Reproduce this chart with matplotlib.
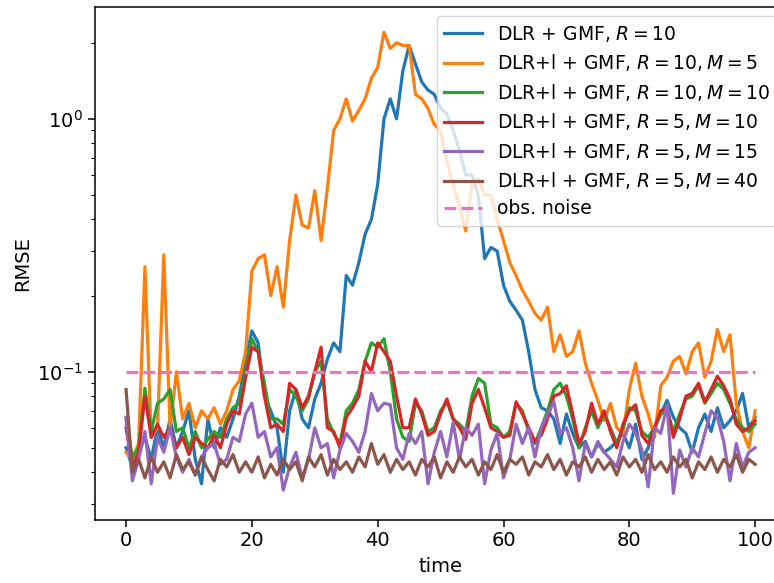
import numpy as np
import matplotlib
matplotlib.use("Agg")
import matplotlib.pyplot as plt

# time grid 0..100
time = np.arange(0, 101)

dlr_r10 = [
    0.05, 0.042, 0.048, 0.055, 0.045, 0.06, 0.05, 0.065, 0.05, 0.058,
    0.07, 0.045, 0.036, 0.065, 0.05, 0.06, 0.055, 0.065, 0.08, 0.11,
    0.145, 0.13, 0.08, 0.07, 0.06, 0.04, 0.07, 0.085, 0.065, 0.06,
    0.078, 0.09, 0.112, 0.13, 0.12, 0.24, 0.22, 0.27, 0.35, 0.4,
    0.55, 1.0, 1.2, 1.0, 1.55, 1.95, 1.65, 1.4, 1.3, 1.25,
    1.1, 1.05, 0.9, 0.75, 0.6, 0.6, 0.5, 0.28, 0.31, 0.3,
    0.22, 0.19, 0.175, 0.16, 0.12, 0.085, 0.072, 0.07, 0.065, 0.052,
    0.068, 0.057, 0.05, 0.053, 0.046, 0.052, 0.048, 0.05, 0.053, 0.057,
    0.05, 0.062, 0.045, 0.05, 0.06, 0.068, 0.077, 0.066, 0.06, 0.057,
    0.048, 0.06, 0.068, 0.058, 0.072, 0.06, 0.064, 0.07, 0.082, 0.06,
    0.066,
]

dlrl_r10_m5 = [
    0.048, 0.045, 0.052, 0.26, 0.055, 0.06, 0.29, 0.06, 0.1, 0.065,
    0.075, 0.06, 0.07, 0.065, 0.072, 0.062, 0.07, 0.085, 0.092, 0.12,
    0.25, 0.28, 0.29, 0.2, 0.26, 0.18, 0.33, 0.5, 0.38, 0.37,
    0.52, 0.33, 0.53, 0.9, 1.0, 1.2, 0.98, 1.08, 1.2, 1.45,
    1.6, 2.2, 1.9, 2.0, 1.95, 1.95, 1.25, 1.2, 1.1, 0.95,
    0.9, 0.68, 0.55, 0.45, 0.36, 0.55, 0.58, 0.5, 0.5, 0.4,
    0.33, 0.27, 0.24, 0.21, 0.19, 0.17, 0.16, 0.18, 0.12, 0.14,
    0.115, 0.12, 0.145, 0.108, 0.09, 0.077, 0.064, 0.075, 0.06, 0.057,
    0.085, 0.108, 0.08, 0.068, 0.055, 0.088, 0.095, 0.11, 0.115, 0.098,
    0.12, 0.13, 0.095, 0.11, 0.147, 0.12, 0.14, 0.075, 0.058, 0.05,
    0.07,
]

dlrl_r10_m10 = [
    0.065, 0.046, 0.05, 0.086, 0.058, 0.075, 0.078, 0.085, 0.058, 0.06,
    0.05, 0.058, 0.05, 0.054, 0.058, 0.055, 0.065, 0.072, 0.075, 0.1,
    0.135, 0.12, 0.09, 0.065, 0.065, 0.062, 0.085, 0.08, 0.07, 0.078,
    0.1, 0.11, 0.065, 0.057, 0.052, 0.07, 0.075, 0.085, 0.11, 0.13,
    0.125, 0.135, 0.1, 0.065, 0.055, 0.053, 0.075, 0.07, 0.058, 0.06,
    0.07, 0.076, 0.065, 0.062, 0.058, 0.08, 0.094, 0.09, 0.062, 0.06,
    0.055, 0.058, 0.075, 0.07, 0.058, 0.052, 0.06, 0.07, 0.085, 0.09,
    0.08, 0.065, 0.05, 0.06, 0.07, 0.06, 0.068, 0.06, 0.052, 0.06,
    0.072, 0.07, 0.058, 0.055, 0.06, 0.068, 0.07, 0.058, 0.068, 0.078,
    0.08, 0.088, 0.075, 0.082, 0.09, 0.085, 0.075, 0.065, 0.06, 0.058,
    0.062,
]

dlrl_r5_m10 = [
    0.06, 0.042, 0.048, 0.08, 0.055, 0.062, 0.055, 0.06, 0.05, 0.055,
    0.047, 0.055, 0.052, 0.05, 0.056, 0.05, 0.062, 0.07, 0.068, 0.095,
    0.125, 0.12, 0.08, 0.06, 0.062, 0.058, 0.09, 0.085, 0.072, 0.08,
    0.1, 0.125, 0.06, 0.058, 0.05, 0.066, 0.072, 0.08, 0.11, 0.1,
    0.13, 0.12, 0.11, 0.08, 0.06, 0.06, 0.078, 0.068, 0.056, 0.058,
    0.068, 0.078, 0.065, 0.06, 0.054, 0.075, 0.085, 0.072, 0.06, 0.058,
    0.055, 0.056, 0.076, 0.068, 0.06, 0.053, 0.056, 0.065, 0.08, 0.082,
    0.088, 0.068, 0.052, 0.058, 0.075, 0.062, 0.07, 0.058, 0.05, 0.062,
    0.07, 0.074, 0.056, 0.052, 0.06, 0.07, 0.072, 0.055, 0.065, 0.08,
    0.082, 0.09, 0.076, 0.085, 0.096, 0.088, 0.078, 0.062, 0.058, 0.06,
    0.064,
]

dlrl_r5_m15 = [
    0.066, 0.037, 0.045, 0.058, 0.036, 0.055, 0.048, 0.06, 0.046, 0.04,
    0.045, 0.039, 0.046, 0.05, 0.052, 0.043, 0.045, 0.055, 0.053, 0.068,
    0.075, 0.055, 0.058, 0.046, 0.05, 0.034, 0.042, 0.048, 0.038, 0.045,
    0.06, 0.05, 0.052, 0.038, 0.049, 0.057, 0.053, 0.048, 0.058, 0.082,
    0.07, 0.075, 0.074, 0.05, 0.045, 0.057, 0.052, 0.058, 0.036, 0.048,
    0.058, 0.046, 0.063, 0.045, 0.06, 0.056, 0.062, 0.036, 0.049, 0.057,
    0.038, 0.045, 0.062, 0.052, 0.06, 0.046, 0.06, 0.068, 0.076, 0.057,
    0.06, 0.05, 0.037, 0.052, 0.046, 0.053, 0.048, 0.045, 0.042, 0.053,
    0.062, 0.057, 0.049, 0.035, 0.06, 0.057, 0.074, 0.033, 0.049, 0.042,
    0.05, 0.046, 0.057, 0.07, 0.066, 0.053, 0.037, 0.052, 0.042, 0.048,
    0.05,
]

dlrl_r5_m40 = [
    0.085, 0.04, 0.045, 0.038, 0.046, 0.04, 0.044, 0.038, 0.047, 0.041,
    0.044, 0.039, 0.046, 0.041, 0.037, 0.045, 0.042, 0.047, 0.04, 0.044,
    0.04, 0.046, 0.038, 0.043, 0.039, 0.045, 0.041, 0.044, 0.037, 0.046,
    0.042, 0.047, 0.039, 0.045, 0.041, 0.044, 0.04, 0.046, 0.042, 0.052,
    0.043, 0.047, 0.04, 0.045, 0.041, 0.044, 0.039, 0.045, 0.042, 0.046,
    0.038, 0.044, 0.04, 0.046, 0.042, 0.045, 0.039, 0.044, 0.041, 0.047,
    0.04, 0.045, 0.043, 0.046, 0.039, 0.044, 0.042, 0.047, 0.041, 0.045,
    0.039, 0.044, 0.042, 0.046, 0.04, 0.045, 0.041, 0.044, 0.039, 0.046,
    0.042, 0.045, 0.04, 0.047, 0.041, 0.044, 0.04, 0.046, 0.042, 0.045,
    0.038, 0.044, 0.041, 0.046, 0.04, 0.045, 0.042, 0.047, 0.04, 0.045,
    0.043,
]

obs_noise = 0.1

labels = [
    r"DLR + GMF, $R = 10$",
    r"DLR+l + GMF, $R = 10, M = 5$",
    r"DLR+l + GMF, $R = 10, M = 10$",
    r"DLR+l + GMF, $R = 5, M = 10$",
    r"DLR+l + GMF, $R = 5, M = 15$",
    r"DLR+l + GMF, $R = 5, M = 40$",
]
series = [dlr_r10, dlrl_r10_m5, dlrl_r10_m10, dlrl_r5_m10, dlrl_r5_m15, dlrl_r5_m40]

plt.rcParams["font.size"] = 14
plt.rcParams["lines.linewidth"] = 2.3
plt.rcParams["axes.linewidth"] = 1.1
plt.rcParams["xtick.major.size"] = 4.7
plt.rcParams["ytick.major.size"] = 4.7
plt.rcParams["ytick.minor.size"] = 2.7
plt.rcParams["xtick.major.width"] = 1.1
plt.rcParams["ytick.major.width"] = 1.1
plt.rcParams["ytick.minor.width"] = 0.8

fig = plt.figure(figsize=(7.74, 5.83), dpi=100)
ax = fig.add_axes([94.6 / 774, 63 / 583, 692 / 774, 513 / 583])

for values, label in zip(series, labels):
    ax.plot(time, values, label=label)
ax.plot([time[0], time[-1]], [obs_noise, obs_noise], "--", color="#e377c2",
        label="obs. noise")

ax.set_yscale("log")
ax.set_xlim(-5, 105)
ax.set_ylim(0.0259, 2.77)
ax.set_xlabel("time", labelpad=5)
ax.set_ylabel("RMSE")
ax.legend(loc="upper right", fontsize=13.5, labelspacing=0.45)

fig.savefig("out.png", dpi=100)
